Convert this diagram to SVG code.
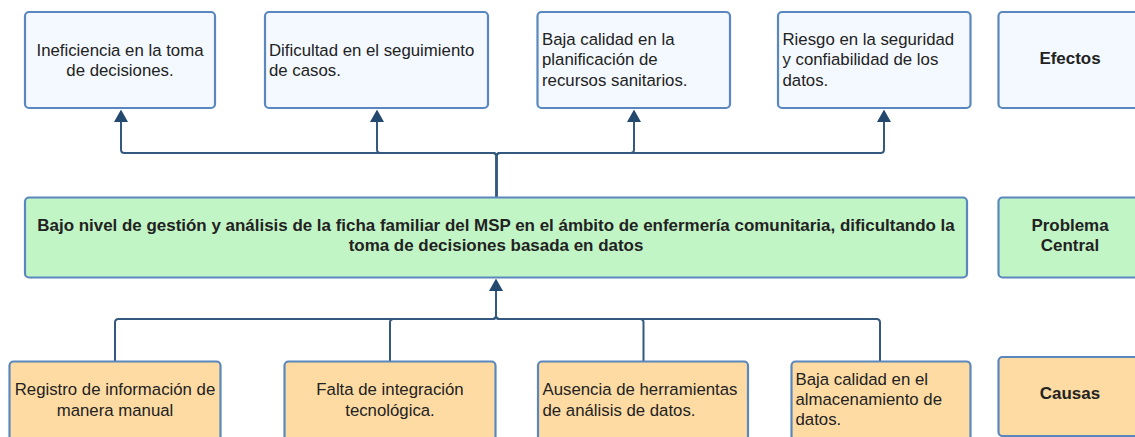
<svg xmlns="http://www.w3.org/2000/svg" width="1135" height="437" viewBox="0 0 1135 437">
<style>
.box{stroke:#5a88be;stroke-width:2.2}
.eff{fill:#f4f9ff}
.cen{fill:#c2f5c6}
.cau{fill:#fedba2}
text{font-family:"Liberation Sans",Arial,sans-serif;font-size:16.8px;fill:#222}
.b{font-weight:bold;font-size:16.95px}
.m{text-anchor:middle}
.conn{fill:none;stroke:#34587e;stroke-width:2;stroke-linejoin:round}
</style>
<defs>
<marker id="arr" viewBox="0 -7 12.5 14" refX="0" refY="0" markerWidth="12.5" markerHeight="14" markerUnits="userSpaceOnUse" orient="auto">
<path d="M0,-7 L12.5,0 L0,7 z" fill="#23496f"/>
</marker>
</defs>
<rect width="1135" height="437" fill="#ffffff"/>
<g id="connectors">
<path class="conn" marker-end="url(#arr)" d="M496.5 197 V156.5 q0 -3.5 -3.5 -3.5 H124.5 q-3.5 0 -3.5 -3.5 V122"/>
<path class="conn" marker-end="url(#arr)" d="M496.5 197 V156.5 q0 -3.5 -3.5 -3.5 H380.5 q-3.5 0 -3.5 -3.5 V122"/>
<path class="conn" marker-end="url(#arr)" d="M496.5 197 V156.5 q0 -3.5 3.5 -3.5 H630.5 q3.5 0 3.5 -3.5 V122"/>
<path class="conn" marker-end="url(#arr)" d="M496.5 197 V156.5 q0 -3.5 3.5 -3.5 H880.5 q3.5 0 3.5 -3.5 V122"/>
<path class="conn" marker-end="url(#arr)" d="M115 361.5 V322.5 q0 -3.5 3.5 -3.5 H492.5 q3.5 0 3.5 -3.5 V291"/>
<path class="conn" d="M390 361.5 V322.5 q0 -3.5 3.5 -3.5 H492.5 q3.5 0 3.5 -3.5 V291"/>
<path class="conn" d="M643.5 361.5 V322.5 q0 -3.5 -3.5 -3.5 H499.5 q-3.5 0 -3.5 -3.5 V291"/>
<path class="conn" d="M880 361.5 V322.5 q0 -3.5 -3.5 -3.5 H499.5 q-3.5 0 -3.5 -3.5 V291"/>
</g>
<g id="efecto1">
<rect class="box eff" x="25" y="12" width="190" height="96" rx="4"/>
<text class="m" x="120" y="55.5">Ineficiencia en la toma</text>
<text class="m" x="120" y="76">de decisiones.</text>
</g>
<g id="efecto2">
<rect class="box eff" x="265" y="12" width="223" height="96" rx="4"/>
<text x="269" y="55.5">Dificultad en el seguimiento</text>
<text x="269" y="76">de casos.</text>
</g>
<g id="efecto3">
<rect class="box eff" x="537.5" y="12" width="192.5" height="96" rx="4"/>
<text x="542" y="44.5">Baja calidad en la</text>
<text x="542" y="65">planificación de</text>
<text x="542" y="85.5">recursos sanitarios.</text>
</g>
<g id="efecto4">
<rect class="box eff" x="778" y="12" width="192.5" height="96" rx="4"/>
<text x="782.5" y="44.5">Riesgo en la seguridad</text>
<text x="782.5" y="65">y confiabilidad de los</text>
<text x="782.5" y="85.5">datos.</text>
</g>
<g id="label-efectos">
<rect class="box eff" x="998.5" y="12" width="144" height="96" rx="4"/>
<text class="m b" x="1070" y="63.5">Efectos</text>
</g>
<g id="problema">
<rect class="box cen" x="25" y="197.5" width="942" height="80" rx="4"/>
<text class="m b" x="496" y="231">Bajo nivel de gestión y análisis de la ficha familiar del MSP en el ámbito de enfermería comunitaria, dificultando la</text>
<text class="m b" x="496" y="251">toma de decisiones basada en datos</text>
</g>
<g id="label-problema">
<rect class="box cen" x="998.5" y="197.5" width="144" height="80" rx="4"/>
<text class="m b" x="1070" y="231">Problema</text>
<text class="m b" x="1070" y="251">Central</text>
</g>
<g id="causa1">
<rect class="box cau" x="9.5" y="361.5" width="211" height="96" rx="4"/>
<text class="m" x="115" y="395">Registro de información de</text>
<text class="m" x="115" y="416">manera manual</text>
</g>
<g id="causa2">
<rect class="box cau" x="284.5" y="361.5" width="211" height="96" rx="4"/>
<text class="m" x="390" y="395">Falta de integración</text>
<text class="m" x="390" y="416">tecnológica.</text>
</g>
<g id="causa3">
<rect class="box cau" x="538" y="361.5" width="210" height="96" rx="4"/>
<text x="542.5" y="395">Ausencia de herramientas</text>
<text x="542.5" y="416">de análisis de datos.</text>
</g>
<g id="causa4">
<rect class="box cau" x="791.5" y="361.5" width="179" height="96" rx="4"/>
<text x="795.5" y="385">Baja calidad en el</text>
<text x="795.5" y="404.5">almacenamiento de</text>
<text x="795.5" y="425">datos.</text>
</g>
<g id="label-causas">
<rect class="box cau" x="998.5" y="357" width="144" height="79" rx="4"/>
<text class="m b" x="1070" y="399">Causas</text>
</g>
</svg>
